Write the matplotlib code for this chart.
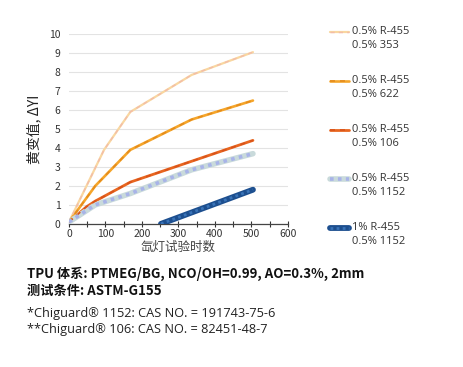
import matplotlib
matplotlib.use('Agg')
import matplotlib.pyplot as plt
from matplotlib.lines import Line2D
import numpy as np

plt.rcParams['font.family'] = ['Noto Sans CJK SC', 'DejaVu Sans']
LATIN = ['Open Sans', 'Noto Sans CJK SC', 'DejaVu Sans']

# ── Data ─────────────────────────────────────────────────────────────────────
x_353 = [0, 48, 96, 168, 336, 504]
y_353 = [0.1, 2.0, 3.9, 5.9, 7.85, 9.05]

x_622 = [0, 72, 168, 336, 504]
y_622 = [0.1, 2.0, 3.9, 5.5, 6.5]

x_106 = [0, 48, 72, 168, 336, 504]
y_106 = [0.1, 0.9, 1.2, 2.2, 3.3, 4.4]

x_1152 = [0, 72, 168, 336, 504]
y_1152 = [0.1, 1.0, 1.6, 2.85, 3.7]

x_1152b = [252, 336, 504]
y_1152b = [0.0, 0.6, 1.8]

labels = ['0.5% R-455\n0.5% 353',
          '0.5% R-455\n0.5% 622',
          '0.5% R-455\n0.5% 106',
          '0.5% R-455\n0.5% 1152',
          '1% R-455\n0.5% 1152']

x_ticks = [0, 100, 200, 300, 400, 500, 600]
y_ticks = list(range(0, 11))

# ── Styles: (base colour, base lw, overlay colour, overlay lw, overlay dashes)
STYLES = [
    ('#f9d7a0', 1.6, '#f3bca8', 1.0, (3, 3)),
    ('#f5a52a', 1.9, '#e58c1c', 1.2, (3, 3)),
    ('#e8661f', 2.0, '#d9531a', 1.2, (3, 3)),
    ('#c9dadb', 4.0, '#a8b3e8', 2.6, (1, 1.2)),
    ('#1d4f8f', 4.2, '#3a74b8', 2.0, (1, 1.2)),
]

series = [(x_353, y_353), (x_622, y_622), (x_106, y_106),
          (x_1152, y_1152), (x_1152b, y_1152b)]

fig = plt.figure(figsize=(4.63, 3.67), dpi=100)
ax = fig.add_axes([0.149, 0.390, 0.473, 0.517])

for (xs, ys), (c, lw, oc, olw, dash) in zip(series, STYLES):
    ax.plot(xs, ys, color=c, lw=lw, solid_capstyle='round', zorder=3)
    ax.plot(xs, ys, color=oc, lw=olw, dashes=dash, zorder=4)

ax.set_xlim(0, 600)
ax.set_ylim(0, 10)
ax.set_xticks(x_ticks)
ax.set_xticks(np.arange(0, 601, 50), minor=True)
ax.set_yticks(y_ticks)
ax.tick_params(axis='x', labelsize=7.5, colors='#333333', direction='inout',
               length=4, width=0.8, which='both', pad=2)
ax.tick_params(axis='y', labelsize=7.5, colors='#333333', length=0, pad=6)
ax.grid(axis='y', color='#e3e3e3', lw=0.8, zorder=0)
for s in ['top', 'right', 'left']:
    ax.spines[s].set_visible(False)
ax.spines['bottom'].set_color('#444444')
ax.spines['bottom'].set_linewidth(0.9)

ax.set_ylabel('黄变值, ΔYI', fontsize=10, color='#222222', labelpad=6)
ax.set_xlabel('氙灯试验时数', fontsize=9, color='#444444', labelpad=1)

# ── Legend (manual, handle aligned with first line) ─────────────────────────
H = 367.0
W = 463.0
leg_y = [32, 81, 130, 179, 228]
for (c, lw, oc, olw, dash), lab, yy in zip(STYLES, labels, leg_y):
    fy = 1 - yy / H
    fig.add_artist(Line2D([330 / W, 349 / W], [fy, fy], color=c, lw=lw,
                          solid_capstyle='round'))
    fig.add_artist(Line2D([330 / W, 349 / W], [fy, fy], color=oc, lw=olw,
                          dashes=dash))
    fig.text(352 / W, fy + 6 / H, lab, fontsize=8, color='#333333',
             ha='left', va='top', linespacing=1.4, family=LATIN)

# ── Footnotes ────────────────────────────────────────────────────────────────
fig.text(27 / W, 1 - 274 / H, 'TPU 体系: PTMEG/BG, NCO/OH=0.99, AO=0.3%, 2mm',
         fontsize=9.5, fontweight='bold', color='#111111', va='center')
fig.text(27 / W, 1 - 291 / H, '测试条件: ASTM-G155',
         fontsize=9.5, fontweight='bold', color='#111111', va='center')
fig.text(27 / W, 1 - 313 / H, '*Chiguard® 1152: CAS NO. = 191743-75-6',
         fontsize=9.2, color='#222222', va='center', family=LATIN)
fig.text(27 / W, 1 - 330 / H, '**Chiguard® 106: CAS NO. = 82451-48-7',
         fontsize=9.2, color='#222222', va='center', family=LATIN)

fig.savefig('out.png', dpi=100, facecolor='white')
